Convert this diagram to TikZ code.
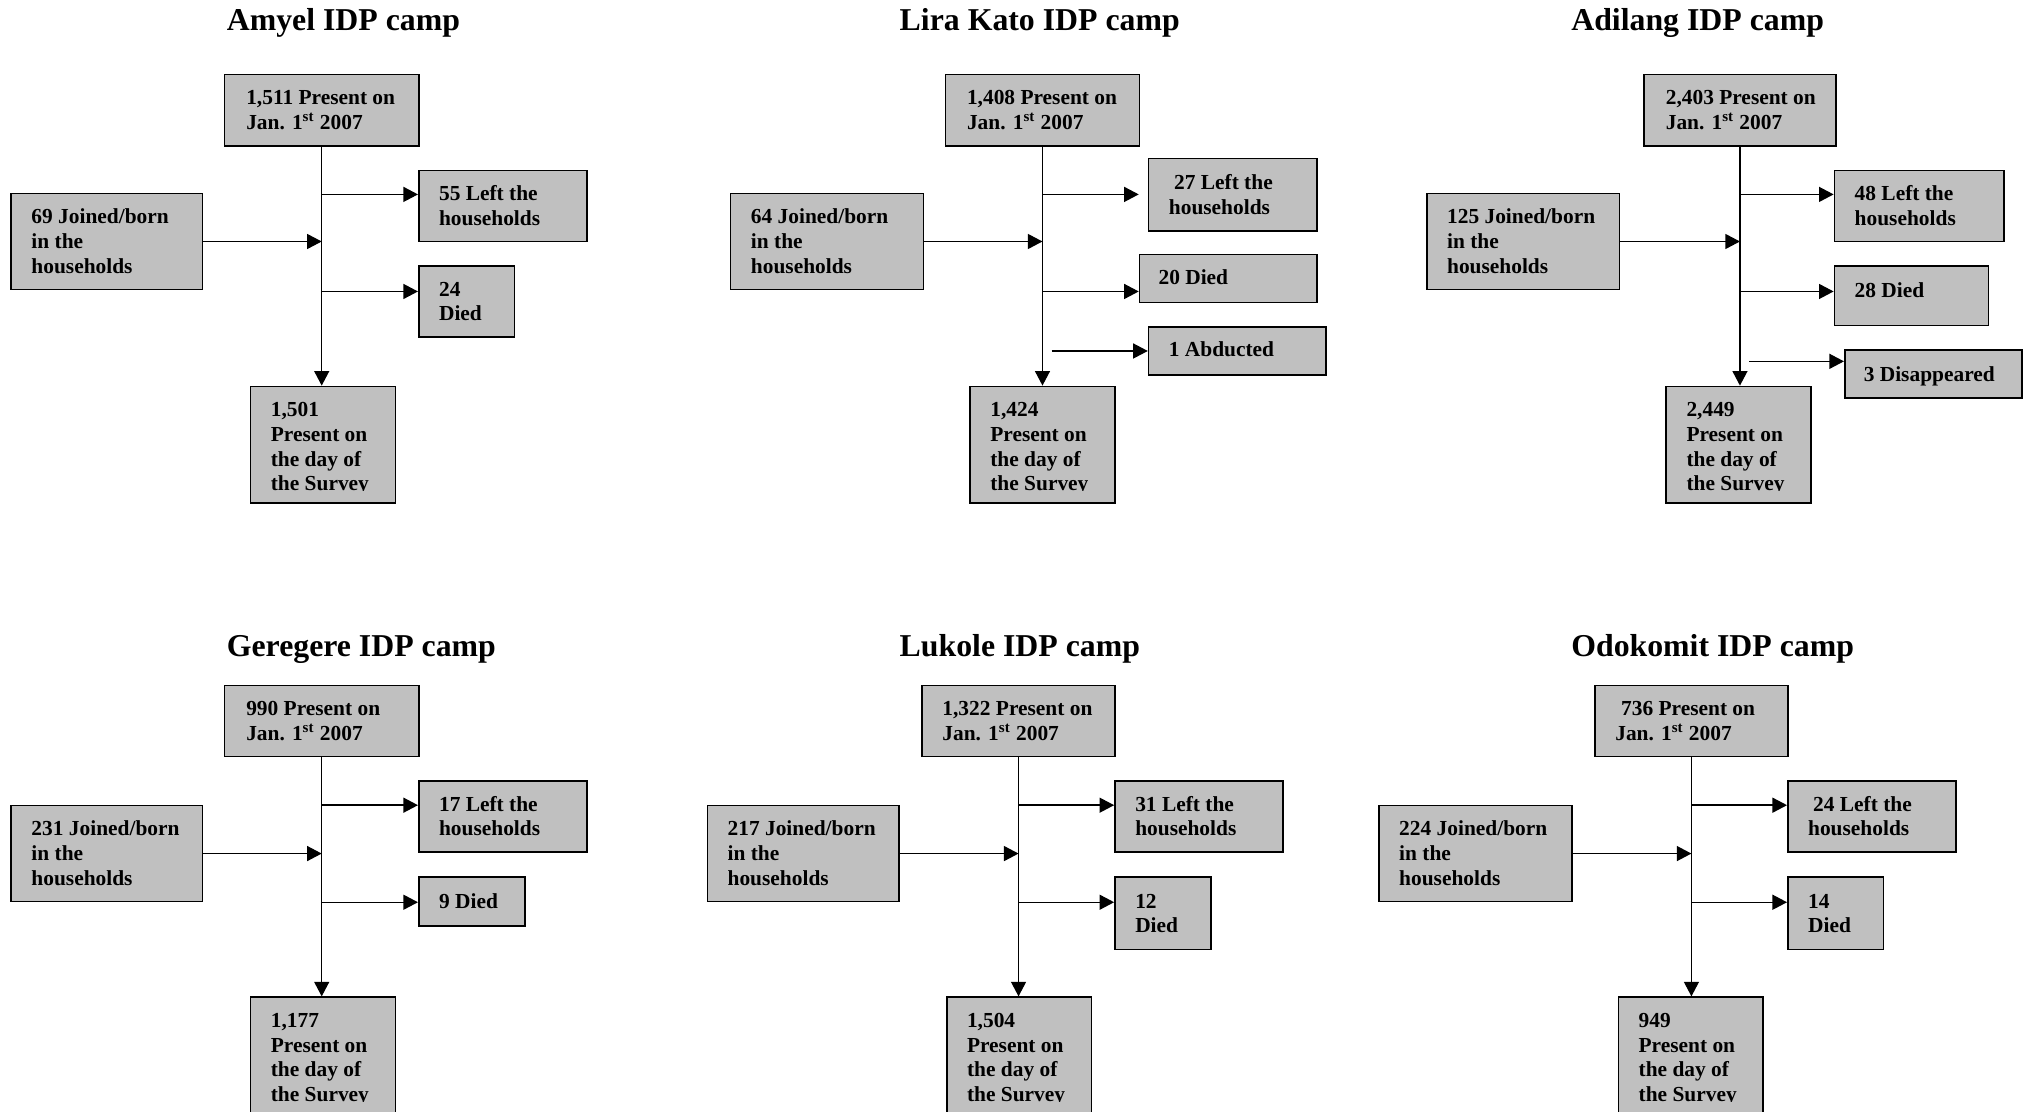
\documentclass[tikz,border=0pt]{standalone}
\usepackage{fontspec}
\setmainfont{Liberation Serif}
\usetikzlibrary{arrows.meta,calc}
\definecolor{boxgray}{RGB}{192,192,192}
\tikzset{
 cb/.style={draw=black, fill=boxgray, line width=0.8pt, inner sep=0pt, rectangle},
 ct/.style={inner sep=0pt, align=left, font=\bfseries\fontsize{10.7}{12.4}\selectfont, text=black},
 ttl/.style={inner sep=0pt, font=\bfseries\fontsize{15.9}{18}\selectfont, anchor=base west},
 arr/.style={line width=0.7pt, -{Triangle[length=7.3pt,width=7.5pt]}},
}
\newcommand\fs{\rule{0pt}{7.6pt}}
\newcommand\cbox[8]{%
 \node[cb, minimum width=#4*0.647pt, minimum height=#5*0.647pt, anchor=north west] (#1) at (#2,#3) {};
 \node[ct, anchor=north west] (#1t) at (#6,#7-6.25) {\fs#8};}
\newcommand\bbox[5]{%
 \node[cb, minimum width=112*0.647pt, minimum height=#4*0.647pt, anchor=north west] (#1) at (#2,#3) {};
 \begin{scope}
 \clip (#2,#3) rectangle (#2+112,#3+81);
 \node[ct, anchor=north west] (#1t) at (#2+16,#3+11.75) {\fs#5};
 \end{scope}}
\newcommand\jan{Jan. 1\textsuperscript{st} 2007}
\begin{document}
\begin{tikzpicture}[x=0.647pt, y=-0.647pt]
\useasboundingbox (0,0) rectangle (1568,859);
\clip (0,0) rectangle (1568,859);

% ---------- Amyel ----------
\node[ttl] (h1) at (175,23.5) {Amyel IDP camp};
\cbox{T1}{173}{57}{150}{55}{190}{75}{1,511 Present on\\\jan}
\cbox{L1}{8}{149}{148}{74}{24}{167}{69 Joined/born\\in the\\households}
\cbox{Ra1}{323}{131}{130}{55}{339}{149}{55 Left the\\households}
\cbox{Rb1}{323}{205}{74}{55}{339}{223}{24\\Died}
\bbox{B1}{193}{298}{90}{1,501\\Present on\\the day of\\the Survey}
\draw[arr] (T1.south) -- (T1.south |- B1.north);
\draw[arr] (L1.east) -- (L1.east -| T1.south);
\coordinate (a1) at ($(T1.south)+(0,37)$);
\coordinate (b1) at ($(T1.south)+(0,112)$);
\draw[arr] (a1) -- (a1 -| Ra1.west);
\draw[arr] (b1) -- (b1 -| Rb1.west);

% ---------- Lira Kato ----------
\node[ttl] (h2) at (695,23.5) {Lira Kato IDP camp};
\cbox{T2}{730}{57}{150}{55}{747}{75}{1,408 Present on\\\jan}
\cbox{L2}{564}{149}{149}{74}{580}{167}{64 Joined/born\\in the\\households}
\cbox{Ra2}{887}{122}{130}{56}{903}{141}{\hspace{2.6pt}27 Left the\\households}
\cbox{Rb2}{880}{196}{137}{37}{895}{214}{20 Died}
\cbox{Rc2}{887}{252}{137}{37}{903}{270}{1 Abducted}
\bbox{B2}{749}{298}{90}{1,424\\Present on\\the day of\\the Survey}
\draw[arr] (T2.south) -- (T2.south |- B2.north);
\draw[arr] (L2.east) -- (L2.east -| T2.south);
\coordinate (a2) at ($(T2.south)+(0,37)$);
\coordinate (b2) at ($(T2.south)+(0,112)$);
\coordinate (c2) at ($(T2.south)+(7,158)$);
\draw[arr] (a2) -- ($(a2 -| Ra2.west)+(-7,0)$);
\draw[arr] (b2) -- (b2 -| Rb2.west);
\draw[arr] (c2) -- (c2 -| Rc2.west);

% ---------- Adilang ----------
\node[ttl] (h3) at (1214,23.5) {Adilang IDP camp};
\cbox{T3}{1270}{57}{148}{55}{1287}{75}{2,403 Present on\\\jan}
\cbox{L3}{1102}{149}{149}{74}{1118}{167}{125 Joined/born\\in the\\households}
\cbox{Ra3}{1417}{131}{131}{55}{1433}{149}{48 Left the\\households}
\cbox{Rb3}{1417}{205}{119}{46}{1433}{224}{28 Died}
\cbox{Rc3}{1425}{270}{137}{37}{1440}{289}{3 Disappeared}
\bbox{B3}{1287}{298}{90}{2,449\\Present on\\the day of\\the Survey}
\draw[arr] (T3.south) -- (T3.south |- B3.north);
\draw[arr] (L3.east) -- (L3.east -| T3.south);
\coordinate (a3) at ($(T3.south)+(0,37)$);
\coordinate (b3) at ($(T3.south)+(0,112)$);
\coordinate (c3) at ($(T3.south)+(7,166)$);
\draw[arr] (a3) -- (a3 -| Ra3.west);
\draw[arr] (b3) -- (b3 -| Rb3.west);
\draw[arr] (c3) -- (c3 -| Rc3.west);

% ---------- Geregere ----------
\node[ttl] (h4) at (175,507.5) {Geregere IDP camp};
\cbox{T4}{173}{529}{150}{55}{190}{547}{990 Present on\\\jan}
\cbox{L4}{8}{622}{148}{74}{24}{640}{231 Joined/born\\in the\\households}
\cbox{Ra4}{323}{603}{130}{55}{339}{621}{17 Left the\\households}
\cbox{Rb4}{323}{677}{82}{38}{339}{696}{9 Died}
\bbox{B4}{193}{770}{100}{1,177\\Present on\\the day of\\the Survey}
\draw[arr] (T4.south) -- (T4.south |- B4.north);
\draw[arr] (L4.east) -- (L4.east -| T4.south);
\coordinate (a4) at ($(T4.south)+(0,37)$);
\coordinate (b4) at ($(T4.south)+(0,112)$);
\draw[arr] (a4) -- (a4 -| Ra4.west);
\draw[arr] (b4) -- (b4 -| Rb4.west);

% ---------- Lukole ----------
\node[ttl] (h5) at (695,507.5) {Lukole IDP camp};
\cbox{T5}{712}{529}{149}{55}{728}{547}{1,322 Present on\\\jan}
\cbox{L5}{546}{622}{148}{74}{562}{640}{217 Joined/born\\in the\\households}
\cbox{Ra5}{861}{603}{130}{55}{877}{621}{31 Left the\\households}
\cbox{Rb5}{861}{677}{74}{56}{877}{696}{12\\Died}
\bbox{B5}{731}{770}{100}{1,504\\Present on\\the day of\\the Survey}
\draw[arr] (T5.south) -- (T5.south |- B5.north);
\draw[arr] (L5.east) -- (L5.east -| T5.south);
\coordinate (a5) at ($(T5.south)+(0,37)$);
\coordinate (b5) at ($(T5.south)+(0,112)$);
\draw[arr] (a5) -- (a5 -| Ra5.west);
\draw[arr] (b5) -- (b5 -| Rb5.west);

% ---------- Odokomit ----------
\node[ttl] (h6) at (1214,507.5) {Odokomit IDP camp};
\cbox{T6}{1232}{529}{149}{55}{1248}{547}{\hspace{2.9pt}736 Present on\\\jan}
\cbox{L6}{1065}{622}{149}{74}{1081}{640}{224 Joined/born\\in the\\households}
\cbox{Ra6}{1381}{603}{130}{55}{1397}{621}{\hspace{2.5pt}24 Left the\\households}
\cbox{Rb6}{1381}{677}{74}{56}{1397}{696}{14\\Died}
\bbox{B6}{1250}{770}{100}{949\\Present on\\the day of\\the Survey}
\draw[arr] (T6.south) -- (T6.south |- B6.north);
\draw[arr] (L6.east) -- (L6.east -| T6.south);
\coordinate (a6) at ($(T6.south)+(0,37)$);
\coordinate (b6) at ($(T6.south)+(0,112)$);
\draw[arr] (a6) -- (a6 -| Ra6.west);
\draw[arr] (b6) -- (b6 -| Rb6.west);
\end{tikzpicture}
\end{document}
